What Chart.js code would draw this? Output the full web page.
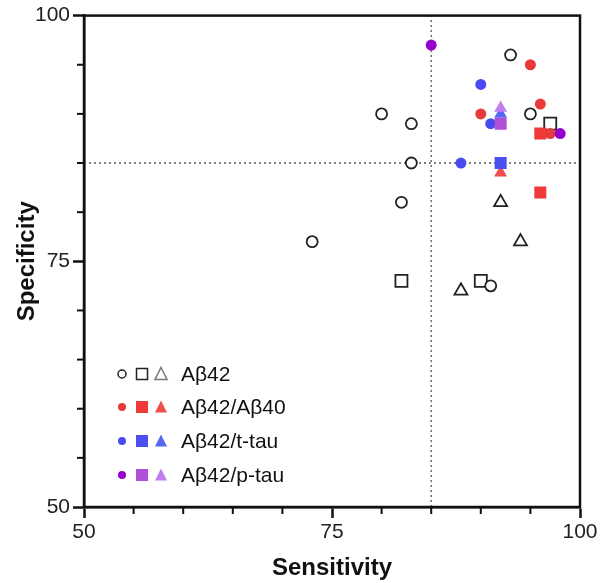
<!DOCTYPE html>
<html>
<head>
<meta charset="utf-8">
<script src="https://cdn.jsdelivr.net/npm/chart.js@4.4.0/dist/chart.umd.min.js"></script>
<style>
  html, body { margin: 0; padding: 0; background: #fff; }
  #wrap { width: 600px; height: 583px; }
</style>
</head>
<body>
<div id="wrap"><canvas id="myChart" width="600" height="583"></canvas></div>
<script>
// [sensitivity, specificity] pairs
const ab42Circles = [[80, 90], [83, 89], [83, 85], [82, 81], [73, 77], [93, 96], [95, 90], [91, 72.5]];
const ab42Squares = [[82, 73], [90, 73], [97, 89]];
const ab42Triangles = [[92, 81], [94, 77], [88, 72]];

const ab4240Circles = [[95, 95], [96, 91], [90, 90], [97, 88]];
const ab4240Squares = [[96, 88], [96, 82]];
const ab4240Triangles = [[92, 84]];

const ttauCircles = [[90, 93], [91, 89], [88, 85]];
const ttauSquares = [[92, 85]];
const ttauTriangles = [[92, 90]];

const ptauCircles = [[85, 97], [98, 88]];
const ptauSquares = [[92, 89]];
const ptauTriangles = [[92, 90.6]];

const cutSens = 85;
const cutSpec = 85;
const axisMin = 50;
const axisMax = 100;
const majorTicks = [50, 75, 100];

const groupLabels = ['Aβ42', 'Aβ42/Aβ40', 'Aβ42/t-tau', 'Aβ42/p-tau'];
// circle, square, triangle colours per group
const groupColors = [
    ['#222222', '#222222', '#666666'],
    ['#e83a3a', '#f03a3a', '#f04e4e'],
    ['#4a4aee', '#4c50f0', '#5868f0'],
    ['#9600cc', '#b050d8', '#c07ef0']
];

const FONT = '"Liberation Sans", Arial, sans-serif';
const toPts = pairs => pairs.map(p => ({ x: p[0], y: p[1] }));

function markerSet(pairs, style, color, open) {
    let radius = 5.5;
    if (style === 'rect') radius = 8.5;
    if (style === 'triangle') radius = 7.5;
    return {
        type: 'scatter',
        data: toPts(pairs),
        pointStyle: style,
        pointRadius: radius,
        pointHoverRadius: radius,
        pointRotation: 0,
        backgroundColor: open ? '#ffffff' : color,
        borderColor: color,
        pointBorderWidth: open ? 1.8 : 0,
        borderWidth: open ? 1.8 : 0
    };
}

function refLine(points) {
    return {
        type: 'line',
        data: points,
        borderColor: '#555555',
        borderWidth: 1.3,
        borderDash: [2, 3],
        pointRadius: 0,
        fill: false
    };
}

const datasets = [
    markerSet(ptauCircles, 'circle', groupColors[3][0], false),
    markerSet(ptauSquares, 'rect', groupColors[3][1], false),
    markerSet(ptauTriangles, 'triangle', groupColors[3][2], false),
    markerSet(ttauCircles, 'circle', groupColors[2][0], false),
    markerSet(ttauSquares, 'rect', groupColors[2][1], false),
    markerSet(ttauTriangles, 'triangle', groupColors[2][2], false),
    markerSet(ab4240Circles, 'circle', groupColors[1][0], false),
    markerSet(ab4240Squares, 'rect', groupColors[1][1], false),
    markerSet(ab4240Triangles, 'triangle', groupColors[1][2], false),
    markerSet(ab42Circles, 'circle', groupColors[0][0], true),
    markerSet(ab42Squares, 'rect', groupColors[0][1], true),
    markerSet(ab42Triangles, 'triangle', groupColors[0][1], true),
    refLine([{ x: cutSens, y: axisMin }, { x: cutSens, y: axisMax }]),
    refLine([{ x: axisMin, y: cutSpec }, { x: axisMax, y: cutSpec }])
];

// frame, minor ticks and the three-marker legend
const decorations = {
    id: 'decorations',
    afterDraw(chart) {
        const c = chart.ctx;
        const a = chart.chartArea;
        const xs = chart.scales.x;
        const ys = chart.scales.y;
        c.save();
        c.strokeStyle = '#111';
        c.lineWidth = 2.5;
        c.strokeRect(a.left, a.top, a.right - a.left, a.bottom - a.top);

        c.lineWidth = 2;
        for (let v = axisMin + 5; v < axisMax; v += 5) {
            if (majorTicks.includes(v)) continue;
            const px = xs.getPixelForValue(v);
            c.beginPath(); c.moveTo(px, a.bottom); c.lineTo(px, a.bottom + 7); c.stroke();
            const py = ys.getPixelForValue(v);
            c.beginPath(); c.moveTo(a.left, py); c.lineTo(a.left - 7, py); c.stroke();
        }

        const rowY = [374, 407, 441, 475];
        groupLabels.forEach((label, i) => {
            const y = rowY[i];
            const open = i === 0;
            const col = groupColors[i];
            c.lineWidth = 1.5;
            // circle
            c.beginPath();
            c.arc(122, y, 4, 0, Math.PI * 2);
            if (open) { c.strokeStyle = col[0]; c.stroke(); }
            else { c.fillStyle = col[0]; c.fill(); }
            // square
            if (open) { c.strokeStyle = col[1]; c.strokeRect(136.5, y - 5.5, 11, 11); }
            else { c.fillStyle = col[1]; c.fillRect(136, y - 6, 12, 12); }
            // triangle
            c.beginPath();
            c.moveTo(161, y - 6.5);
            c.lineTo(167, y + 5.5);
            c.lineTo(155, y + 5.5);
            c.closePath();
            if (open) { c.strokeStyle = '#777'; c.stroke(); }
            else { c.fillStyle = col[2]; c.fill(); }

            c.fillStyle = '#111';
            c.font = '21px ' + FONT;
            c.textBaseline = 'middle';
            c.textAlign = 'left';
            c.fillText(label, 181, y + 1);
        });
        c.restore();
    }
};

const ctx = document.getElementById('myChart').getContext('2d');
new Chart(ctx, {
    type: 'scatter',
    data: { datasets: datasets },
    options: {
        responsive: false,
        animation: false,
        layout: { padding: { top: 11, right: 20, left: 0, bottom: 0 } },
        plugins: {
            legend: { display: false },
            tooltip: { enabled: false }
        },
        scales: {
            x: {
                type: 'linear',
                min: axisMin,
                max: axisMax,
                afterFit: s => { s.height = 76; },
                afterBuildTicks: s => { s.ticks = majorTicks.map(v => ({ value: v })); },
                border: { color: '#111', width: 2.5 },
                grid: { drawOnChartArea: false, tickLength: 11, tickWidth: 2.5, tickColor: '#111' },
                ticks: { color: '#222', padding: 2, font: { size: 21, family: FONT }, maxRotation: 0 },
                title: {
                    display: true,
                    text: 'Sensitivity',
                    color: '#111',
                    padding: { top: 0, bottom: 0 },
                    font: { size: 24, weight: 'bold', family: FONT }
                }
            },
            y: {
                type: 'linear',
                min: axisMin,
                max: axisMax,
                afterFit: s => { s.width = 84; },
                afterBuildTicks: s => { s.ticks = majorTicks.map(v => ({ value: v })); },
                border: { color: '#111', width: 2.5 },
                grid: { drawOnChartArea: false, tickLength: 11, tickWidth: 2.5, tickColor: '#111' },
                ticks: { color: '#222', padding: 3, font: { size: 21, family: FONT } },
                title: {
                    display: true,
                    text: 'Specificity',
                    color: '#111',
                    padding: { top: 13, bottom: 0 },
                    font: { size: 24, weight: 'bold', family: FONT }
                }
            }
        }
    },
    plugins: [decorations]
});
</script>
</body>
</html>
